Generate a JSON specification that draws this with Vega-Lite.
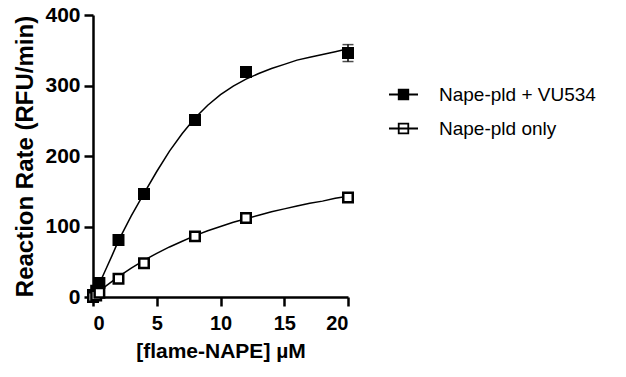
{
  "$schema": "https://vega.github.io/schema/vega-lite/v6.json",
  "width": 255,
  "height": 282,
  "autosize": {"type": "none"},
  "padding": {"left": 93, "top": 15, "right": 278, "bottom": 80},
  "background": "white",
  "datasets": {
    "points": [
      {"series": "Nape-pld + VU534", "conc": 0, "rate": 3},
      {"series": "Nape-pld + VU534", "conc": 0.25, "rate": 9},
      {"series": "Nape-pld + VU534", "conc": 0.5, "rate": 20},
      {"series": "Nape-pld + VU534", "conc": 2, "rate": 81},
      {"series": "Nape-pld + VU534", "conc": 4, "rate": 146},
      {"series": "Nape-pld + VU534", "conc": 8, "rate": 251},
      {"series": "Nape-pld + VU534", "conc": 12, "rate": 319},
      {"series": "Nape-pld + VU534", "conc": 20, "rate": 346, "lo": 334, "hi": 358},
      {"series": "Nape-pld only", "conc": 0, "rate": 0},
      {"series": "Nape-pld only", "conc": 0.25, "rate": 2},
      {"series": "Nape-pld only", "conc": 0.5, "rate": 6},
      {"series": "Nape-pld only", "conc": 2, "rate": 26},
      {"series": "Nape-pld only", "conc": 4, "rate": 48},
      {"series": "Nape-pld only", "conc": 8, "rate": 86},
      {"series": "Nape-pld only", "conc": 12, "rate": 112},
      {"series": "Nape-pld only", "conc": 20, "rate": 141}
    ],
    "curves": [
      {"series": "Nape-pld + VU534", "conc": 0, "rate": 0},
      {"series": "Nape-pld + VU534", "conc": 0.5, "rate": 19},
      {"series": "Nape-pld + VU534", "conc": 1, "rate": 39},
      {"series": "Nape-pld + VU534", "conc": 1.5, "rate": 59},
      {"series": "Nape-pld + VU534", "conc": 2, "rate": 80},
      {"series": "Nape-pld + VU534", "conc": 3, "rate": 115},
      {"series": "Nape-pld + VU534", "conc": 4, "rate": 147},
      {"series": "Nape-pld + VU534", "conc": 5, "rate": 178},
      {"series": "Nape-pld + VU534", "conc": 6, "rate": 207},
      {"series": "Nape-pld + VU534", "conc": 7, "rate": 232},
      {"series": "Nape-pld + VU534", "conc": 8, "rate": 254},
      {"series": "Nape-pld + VU534", "conc": 9, "rate": 272},
      {"series": "Nape-pld + VU534", "conc": 10, "rate": 287},
      {"series": "Nape-pld + VU534", "conc": 11, "rate": 299},
      {"series": "Nape-pld + VU534", "conc": 12, "rate": 309},
      {"series": "Nape-pld + VU534", "conc": 13, "rate": 317},
      {"series": "Nape-pld + VU534", "conc": 14, "rate": 324},
      {"series": "Nape-pld + VU534", "conc": 15, "rate": 330},
      {"series": "Nape-pld + VU534", "conc": 16, "rate": 336},
      {"series": "Nape-pld + VU534", "conc": 17, "rate": 340},
      {"series": "Nape-pld + VU534", "conc": 18, "rate": 344},
      {"series": "Nape-pld + VU534", "conc": 19, "rate": 348},
      {"series": "Nape-pld + VU534", "conc": 20, "rate": 352},
      {"series": "Nape-pld only", "conc": 0, "rate": 0},
      {"series": "Nape-pld only", "conc": 0.5, "rate": 8},
      {"series": "Nape-pld only", "conc": 1, "rate": 15.5},
      {"series": "Nape-pld only", "conc": 2, "rate": 29},
      {"series": "Nape-pld only", "conc": 3, "rate": 41},
      {"series": "Nape-pld only", "conc": 4, "rate": 52},
      {"series": "Nape-pld only", "conc": 5, "rate": 62},
      {"series": "Nape-pld only", "conc": 6, "rate": 71},
      {"series": "Nape-pld only", "conc": 7, "rate": 79},
      {"series": "Nape-pld only", "conc": 8, "rate": 87},
      {"series": "Nape-pld only", "conc": 9, "rate": 94},
      {"series": "Nape-pld only", "conc": 10, "rate": 100},
      {"series": "Nape-pld only", "conc": 11, "rate": 106},
      {"series": "Nape-pld only", "conc": 12, "rate": 111},
      {"series": "Nape-pld only", "conc": 13, "rate": 116},
      {"series": "Nape-pld only", "conc": 14, "rate": 121},
      {"series": "Nape-pld only", "conc": 15, "rate": 125},
      {"series": "Nape-pld only", "conc": 16, "rate": 129},
      {"series": "Nape-pld only", "conc": 17, "rate": 133},
      {"series": "Nape-pld only", "conc": 18, "rate": 136},
      {"series": "Nape-pld only", "conc": 19, "rate": 140},
      {"series": "Nape-pld only", "conc": 20, "rate": 143}
    ]
  },
  "config": {
    "view": {"stroke": null},
    "font": "Liberation Sans",
    "axis": {
      "grid": false,
      "domainColor": "black",
      "domainWidth": 2.5,
      "tickColor": "black",
      "tickWidth": 2.5,
      "tickSize": 9,
      "labelColor": "black",
      "labelFont": "Liberation Sans",
      "labelFontWeight": "bold",
      "labelFontSize": 20,
      "titleColor": "black",
      "titleFont": "Liberation Sans",
      "titleFontWeight": "bold"
    }
  },
  "layer": [
    {
      "data": {"name": "curves"},
      "mark": {"type": "line", "color": "black", "strokeWidth": 1.5, "clip": false},
      "encoding": {
        "x": {
          "field": "conc", "type": "quantitative",
          "scale": {"domain": [0, 20], "nice": false},
          "axis": {"values": [0, 5, 10, 15, 20], "title": "[flame-NAPE] µM", "titleFontSize": 21, "labelPadding": 7, "titlePadding": 7}
        },
        "y": {
          "field": "rate", "type": "quantitative",
          "scale": {"domain": [0, 400], "nice": false},
          "axis": {"values": [0, 100, 200, 300, 400], "title": "Reaction Rate (RFU/min)", "titleFontSize": 24, "labelFontSize": 21, "labelPadding": 4, "titlePadding": 7}
        },
        "detail": {"field": "series"}
      }
    },
    {
      "data": {"name": "points"},
      "mark": {"type": "rule", "color": "black", "strokeWidth": 1.5},
      "encoding": {
        "x": {"field": "conc", "type": "quantitative"},
        "y": {"field": "lo", "type": "quantitative"},
        "y2": {"field": "hi"}
      }
    },
    {
      "data": {"name": "points"},
      "mark": {"type": "tick", "orient": "horizontal", "color": "black", "size": 11, "thickness": 1.5},
      "encoding": {
        "x": {"field": "conc", "type": "quantitative"},
        "y": {"field": "lo", "type": "quantitative"}
      }
    },
    {
      "data": {"name": "points"},
      "mark": {"type": "tick", "orient": "horizontal", "color": "black", "size": 11, "thickness": 1.5},
      "encoding": {
        "x": {"field": "conc", "type": "quantitative"},
        "y": {"field": "hi", "type": "quantitative"}
      }
    },
    {
      "data": {"name": "points"},
      "mark": {"type": "point", "shape": "square", "filled": true, "stroke": "black", "strokeWidth": 2.5, "size": 90, "opacity": 1, "clip": false},
      "encoding": {
        "x": {"field": "conc", "type": "quantitative"},
        "y": {"field": "rate", "type": "quantitative"},
        "fill": {
          "field": "series", "type": "nominal",
          "scale": {"domain": ["Nape-pld + VU534", "Nape-pld only"], "range": ["black", "white"]},
          "legend": {
            "title": null,
            "orient": "none",
            "legendX": 295,
            "legendY": 64,
            "symbolType": "M-1,0H1M-0.33,-0.33H0.33V0.33H-0.33Z",
            "symbolSize": 841,
            "symbolStrokeColor": "black",
            "symbolStrokeWidth": 1.8,
            "symbolOpacity": 1,
            "rowPadding": 8,
            "labelOffset": 20,
            "labelFont": "Liberation Sans",
            "labelFontSize": 19,
            "labelColor": "black",
            "labelLimit": 300
          }
        }
      }
    }
  ]
}
